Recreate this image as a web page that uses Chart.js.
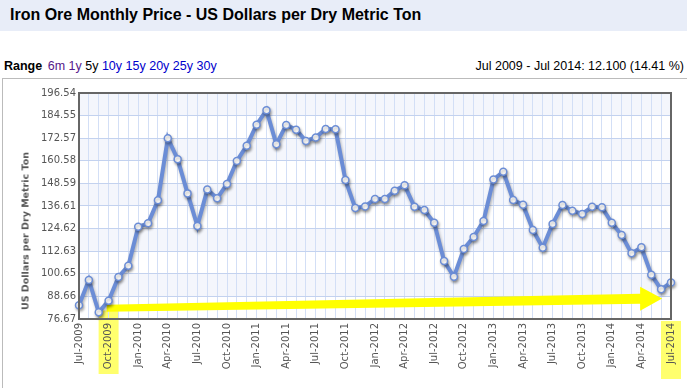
<!DOCTYPE html>
<html>
<head>
<meta charset="utf-8">
<script src="https://cdn.jsdelivr.net/npm/chart.js@4.4.1/dist/chart.umd.min.js"></script>
<style>
  html, body { margin:0; padding:0; background:#fff; }
  body { width:687px; height:388px; position:relative; overflow:hidden; font-family:'Liberation Sans', Arial, sans-serif; }
  #title { position:absolute; left:0; top:0; width:687px; height:31px; background:#e8edf8; }
  #title span { position:absolute; left:10px; top:6px; font-size:16px; font-weight:bold; color:#000; white-space:nowrap; }
  #range { position:absolute; left:4px; top:59px; font-size:12.5px; color:#000; white-space:nowrap; }
  #range b { margin-right:2px; }
  #range .v { color:#551a8b; }
  #range .l { color:#0000cc; }
  #change { position:absolute; right:3px; top:59px; font-size:12.5px; color:#000; white-space:nowrap; }
  #box { position:absolute; left:2px; top:78px; width:700px; height:320px; border-top:1px solid #bbb; border-left:1px solid #bbb; }
  #wrap { position:absolute; left:0; top:80px; width:687px; height:308px; }
  #ytitle { position:absolute; left:25px; top:231px; transform:translate(-50%,-50%) rotate(-90deg); font-family:'DejaVu Sans', sans-serif; font-size:9.5px; font-weight:bold; color:#555; white-space:nowrap; }
</style>
</head>
<body>
<div id="title"><span>Iron Ore Monthly Price - US Dollars per Dry Metric Ton</span></div>
<div id="range"><b>Range</b> <span class="v">6m</span> <span class="v">1y</span> <span>5y</span> <span class="l">10y</span> <span class="l">15y</span> <span class="l">20y</span> <span class="l">25y</span> <span class="l">30y</span></div>
<div id="change">Jul 2009 - Jul 2014: 12.100 (14.41 %)</div>
<div id="box"></div>
<div id="wrap"><canvas id="c" width="687" height="308"></canvas></div>
<div id="ytitle">US Dollars per Dry Metric Ton</div>
<script>
const months = [
  'Jul-2009','Aug-2009','Sep-2009','Oct-2009','Nov-2009','Dec-2009',
  'Jan-2010','Feb-2010','Mar-2010','Apr-2010','May-2010','Jun-2010','Jul-2010','Aug-2010','Sep-2010','Oct-2010','Nov-2010','Dec-2010',
  'Jan-2011','Feb-2011','Mar-2011','Apr-2011','May-2011','Jun-2011','Jul-2011','Aug-2011','Sep-2011','Oct-2011','Nov-2011','Dec-2011',
  'Jan-2012','Feb-2012','Mar-2012','Apr-2012','May-2012','Jun-2012','Jul-2012','Aug-2012','Sep-2012','Oct-2012','Nov-2012','Dec-2012',
  'Jan-2013','Feb-2013','Mar-2013','Apr-2013','May-2013','Jun-2013','Jul-2013','Aug-2013','Sep-2013','Oct-2013','Nov-2013','Dec-2013',
  'Jan-2014','Feb-2014','Mar-2014','Apr-2014','May-2014','Jun-2014','Jul-2014'
];
const prices = [
  83.97, 97.35, 80.2, 86.4, 99.0, 104.9,
  125.6, 127.4, 139.6, 172.5, 161.4, 143.3, 126.0, 145.3, 140.7, 148.3, 160.5, 168.6,
  179.7, 187.4, 169.3, 179.6, 177.1, 171.1, 173.0, 177.4, 177.3, 150.4, 135.5, 136.4,
  140.3, 140.3, 144.7, 147.6, 136.2, 134.5, 127.7, 107.4, 99.1, 113.8, 120.2, 128.7,
  150.6, 154.8, 139.8, 137.3, 123.9, 114.5, 127.1, 137.1, 134.1, 132.4, 136.2, 135.9,
  127.7, 121.2, 111.5, 114.7, 100.2, 92.4, 96.07
];
const yTicks = [76.67, 88.66, 100.65, 112.63, 124.62, 136.61, 148.59, 160.58, 172.57, 184.55, 196.54];

// yellow annotation, in data units (category index, price)
const arrowFrom = { x: 2.8, y: 82.4 };
const arrowTo   = { x: 59.1, y: 87.6 };
const highlightIdx = [3, 60];

const bandsAndHighlights = {
  id: 'bands',
  beforeDraw(chart) {
    const { ctx, chartArea: a, scales: { x, y } } = chart;
    ctx.save();
    ctx.fillStyle = '#f4f6fc';
    for (let i = yTicks.length - 1; i > 0; i -= 2) {
      const t = y.getPixelForValue(yTicks[i]), b = y.getPixelForValue(yTicks[i - 1]);
      ctx.fillRect(a.left, t, a.right - a.left, b - t);
    }
    ctx.fillStyle = 'rgba(255,255,60,0.75)';
    highlightIdx.forEach((idx, k) => {
      const px = x.getPixelForValue(idx);
      const top = k === 0 ? y.getPixelForValue(81.2) : a.bottom + 2;
      const bot = k === 0 ? a.bottom + 55 : a.bottom + 60;
      ctx.fillRect(px - 10, top, 20, bot - top);
    });
    ctx.restore();
  },
  beforeDatasetsDraw(chart) {
    const { ctx, scales: { x, y } } = chart;
    const x0 = x.getPixelForValue(arrowFrom.x), y0 = y.getPixelForValue(arrowFrom.y);
    const x1 = x.getPixelForValue(arrowTo.x),   y1 = y.getPixelForValue(arrowTo.y);
    const hx = x1 - 22;
    const hy = y0 + (y1 - y0) * (hx - x0) / (x1 - x0);
    ctx.save();
    ctx.fillStyle = '#ffff00';
    ctx.beginPath();
    ctx.moveTo(x0, y0 - 3.5);
    ctx.lineTo(hx, hy - 5);
    ctx.lineTo(hx, hy - 12);
    ctx.lineTo(x1, y1);
    ctx.lineTo(hx, hy + 12);
    ctx.lineTo(hx, hy + 5);
    ctx.lineTo(x0, y0 + 3.5);
    ctx.closePath();
    ctx.fill();
    ctx.restore();
  },
  beforeDatasetDraw(chart) {
    const ctx = chart.ctx;
    ctx.save();
    ctx.shadowColor = 'rgba(0,0,0,0.3)';
    ctx.shadowBlur = 3;
    ctx.shadowOffsetX = 1;
    ctx.shadowOffsetY = 2;
  },
  afterDatasetDraw(chart) {
    chart.ctx.restore();
  },
  afterDraw(chart) {
    const { ctx, chartArea: a } = chart;
    ctx.save();
    ctx.strokeStyle = '#666';
    ctx.lineWidth = 2;
    ctx.strokeRect(a.left, a.top, a.right - a.left, a.bottom - a.top);
    ctx.restore();
  }
};

new Chart(document.getElementById('c'), {
  type: 'line',
  data: {
    labels: months,
    datasets: [{
      data: prices,
      borderColor: '#6b8dd6',
      borderWidth: 4,
      tension: 0,
      clip: false,
      pointRadius: 3.5,
      pointBackgroundColor: '#fff',
      pointBorderColor: '#6b8dd6',
      pointBorderWidth: 1.5,
      pointHoverRadius: 3.5
    }]
  },
  options: {
    responsive: false,
    animation: false,
    events: [],
    layout: { padding: { top: 13, right: 14, left: 0, bottom: 0 } },
    plugins: { legend: { display: false }, tooltip: { enabled: false } },
    scales: {
      x: {
        offset: false,
        afterFit: s => { s.height = 69; },
        grid: { color: '#d3dff6', lineWidth: 1, drawTicks: false },
        border: { display: false },
        ticks: {
          autoSkip: false, maxRotation: 90, minRotation: 90, padding: 4,
          color: '#555', font: { family: 'DejaVu Sans', size: 10 },
          callback: (v, i) => i % 3 === 0 ? months[i] : ''
        }
      },
      y: {
        min: yTicks[0], max: yTicks[yTicks.length - 1],
        afterFit: s => { s.width = 79; },
        afterBuildTicks: s => { s.ticks = yTicks.map(v => ({ value: v })); },
        grid: { color: '#c3d2ef', lineWidth: 1, drawTicks: false },
        border: { display: false },
        ticks: {
          padding: 3, color: '#555', font: { family: 'DejaVu Sans', size: 10 },
          callback: v => v.toFixed(2)
        }
      }
    }
  },
  plugins: [bandsAndHighlights]
});
</script>
</body>
</html>
